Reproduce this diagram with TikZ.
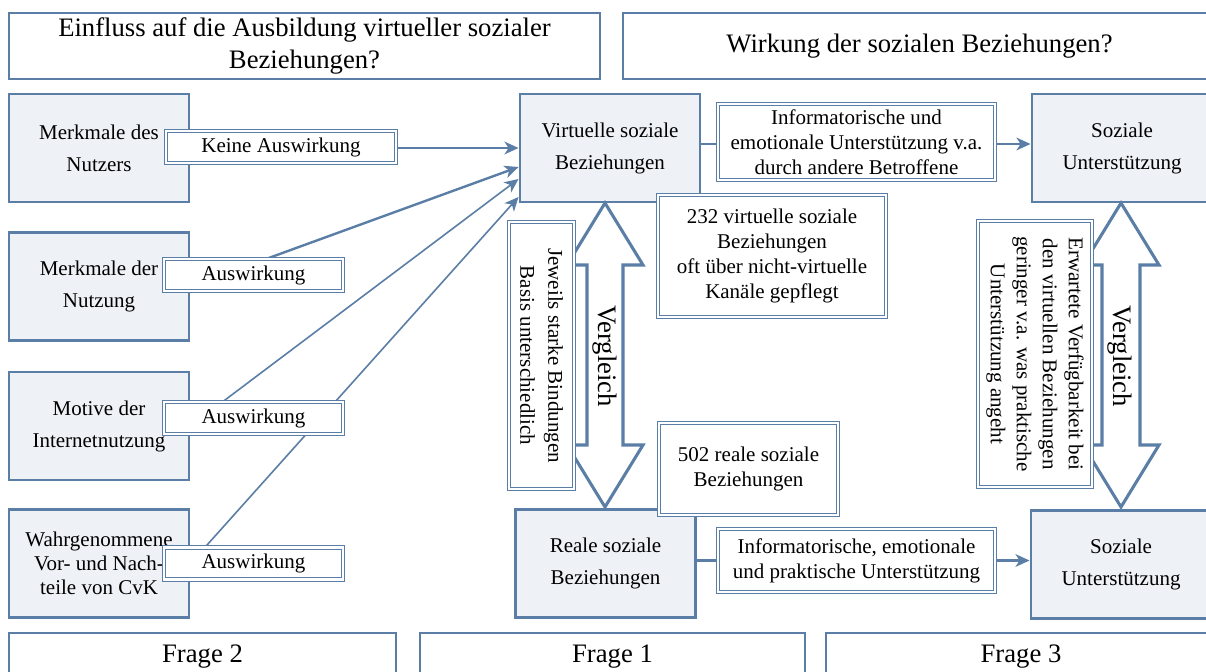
\documentclass[tikz,border=0pt]{standalone}
\usepackage{fontspec}
\setmainfont{Liberation Serif}
\usetikzlibrary{arrows.meta,calc}
\definecolor{bl}{RGB}{91,126,166}
\definecolor{bf}{RGB}{238,242,246}
\begin{document}
\begin{tikzpicture}[x=0.75pt,y=-0.75pt,
 bigbox/.style={draw=bl, line width=2.2pt, fill=bf, minimum width=135pt, minimum height=81pt, inner sep=0pt, align=center, font=\fontsize{15.75}{24}\selectfont},
 titlebox/.style={draw=bl, line width=1.9pt, fill=white, inner sep=0pt, align=center, font=\fontsize{20}{24}\selectfont},
 lbl/.style={draw=bl, double=white, line width=0.8pt, double distance=1.6pt, fill=white, inner sep=0pt, align=center, font=\fontsize{15.75}{18.75}\selectfont},
 conn/.style={draw=bl, line width=1.8pt, -{Stealth[length=10.5pt,width=9.5pt,inset=3pt]}},
 connthin/.style={conn, line width=1.2pt},
 cmparrow/.style={draw=bl, line width=2.3pt, fill=white, line join=miter},
 vtext/.style={rotate=-90, font=\fontsize{20}{24}\selectfont, inner sep=0pt}
]
\useasboundingbox (0,0) rectangle (1206,671);
\clip (0,0) rectangle (1206,671);
\fill[white] (0,0) rectangle (1206,671);

% titles
\node[titlebox, minimum width=443.25pt, minimum height=49.5pt] (t1) at (304.5,46) {Einfluss auf die Ausbildung virtueller sozialer\\Beziehungen?};
\node[titlebox, minimum width=444.75pt, minimum height=49.5pt] (t2) at (919.5,46) {Wirkung der sozialen Beziehungen?};

% Frage boxes
\node[titlebox, minimum width=290.25pt, minimum height=36pt] (f2) at (202.5,657) {Frage 2};
\node[titlebox, minimum width=288.75pt, minimum height=36pt] (f1) at (612.5,657) {Frage 1};
\node[titlebox, minimum width=292.5pt, minimum height=36pt] (f3) at (1021,657) {Frage 3};

% big boxes
\node[bigbox] (m1) at (99,148) {Merkmale des\\Nutzers};
\node[bigbox] (m2) at (99,286.5) {Merkmale der\\Nutzung};
\node[bigbox] (m3) at (99,426) {Motive der\\Internetnutzung};
\node[bigbox, font=\fontsize{15.75}{18}\selectfont] (m4) at (99,563.5) {Wahrgenommene\\Vor- und Nach-\\teile von CvK};
\node[bigbox] (virt) at (610,148) {Virtuelle soziale\\Beziehungen};
\node[bigbox] (reale) at (605.5,563.5) {Reale soziale\\Beziehungen};
\node[bigbox] (soz1) at (1122,148) {Soziale\\Unterstützung};
\node[bigbox] (soz2) at (1121,564.5) {Soziale\\Unterstützung};

% connectors left
\draw[conn] (m1.east) -- (virt.west);
\draw[conn] (m2.east) -- ($(virt.west)+(0,19)$);
\draw[connthin] (m3.east) -- ($(virt.west)+(0,31)$);
\draw[connthin] (m4.east) -- ($(virt.west)+(0,49)$);

% connectors right
\coordinate (vout) at ($(virt.east)+(0,-4)$);
\draw[conn] (vout) -- (vout -| soz1.west);
\coordinate (rout) at ($(reale.east)+(0,-3)$);
\draw[conn] (rout) -- (rout -| soz2.west);

% comparison arrows
\draw[cmparrow] (605,203) -- (643,265) -- (623,265) -- (623,445) -- (643,445) -- (605,507) -- (567,445) -- (587,445) -- (587,265) -- (567,265) -- cycle;
\node[vtext] (v1) at (605,356) {Vergleich};
\draw[cmparrow] (1121,203) -- (1159,265) -- (1140,265) -- (1140,445) -- (1159,445) -- (1121,507) -- (1083,445) -- (1102,445) -- (1102,265) -- (1083,265) -- cycle;
\node[vtext] (v2) at (1120,356) {Vergleich};

% label boxes
\node[lbl, minimum width=172.5pt, minimum height=24pt] (k) at (281,147) {Keine Auswirkung};
\node[lbl, minimum width=134.25pt, minimum height=24pt] (a2) at (253.5,275) {Auswirkung};
\node[lbl, minimum width=134.25pt, minimum height=24pt] (a3) at (253.5,418) {Auswirkung};
\node[lbl, minimum width=134.25pt, minimum height=24pt] (a4) at (253.5,563.5) {Auswirkung};
\node[lbl, minimum width=207.75pt, minimum height=57pt] (info1) at (856.5,142) {Informatorische und\\emotionale Unterstützung v.a.\\durch andere Betroffene};
\node[lbl, minimum width=207.75pt, minimum height=47.25pt] (info2) at (856.5,560.5) {Informatorische, emotionale\\und praktische Unterstützung};
\node[lbl, minimum width=171pt, minimum height=91.5pt] (n232) at (772,256) {232 virtuelle soziale\\Beziehungen\\oft über nicht-virtuelle\\Kanäle gepflegt};
\node[lbl, minimum width=134.25pt, minimum height=69pt] (n502) at (748.5,469) {502 reale soziale\\Beziehungen};
\node[lbl, rotate=-90, minimum width=200.25pt, minimum height=48.75pt, font=\fontsize{15.75}{21}\selectfont] (jew) at (541.5,355.5) {Jeweils starke Bindungen\\Basis unterschiedlich};
\node[lbl, rotate=-90, minimum width=199.5pt, minimum height=85.5pt, font=\fontsize{15.75}{19.5}\selectfont] (erw) at (1035,354) {Erwartete Verfügbarkeit bei\\den virtuellen Beziehungen\\geringer v.a. was praktische\\Unterstützung angeht};
\end{tikzpicture}
\end{document}
